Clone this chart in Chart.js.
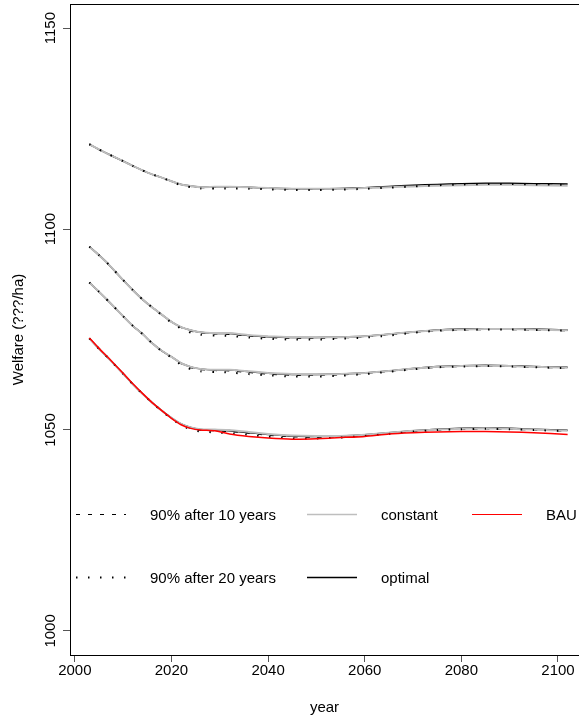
<!DOCTYPE html>
<html>
<head>
<meta charset="utf-8">
<script src="https://cdn.jsdelivr.net/npm/chart.js@4"></script>
<style>
  body { margin: 0; background: #fff; }
  canvas { display: block; }
</style>
</head>
<body>
<canvas id="chart" width="579" height="719"></canvas>
<script>
// -- DATA -- //
const years = [2003, 2005, 2007, 2010, 2012, 2014, 2016, 2018, 2020, 2022, 2024, 2026, 2029, 2032,
               2036, 2040, 2045, 2050, 2055, 2060, 2065, 2070, 2075, 2080, 2085, 2090, 2095, 2102];

const x_ticks = [2000, 2020, 2040, 2060, 2080, 2100];
const y_ticks = [1000, 1050, 1100, 1150];

// top group
const constant_a = [1121.1, 1119.8, 1118.6, 1116.9, 1115.7, 1114.6, 1113.6, 1112.8, 1111.9, 1111.1, 1110.7, 1110.4, 1110.5, 1110.5,
                    1110.4, 1110.2, 1110.0, 1110.0, 1110.0, 1110.2, 1110.4, 1110.6, 1110.8, 1110.9, 1111.0, 1111.0, 1110.9, 1110.8];
const optimal_a  = [1121.1, 1119.8, 1118.6, 1116.9, 1115.7, 1114.6, 1113.6, 1112.8, 1111.9, 1111.1, 1110.7, 1110.4, 1110.5, 1110.5,
                    1110.4, 1110.2, 1110.0, 1110.0, 1110.1, 1110.3, 1110.6, 1110.9, 1111.1, 1111.3, 1111.4, 1111.4, 1111.3, 1111.2];
const p10_a      = [1121.1, 1119.8, 1118.6, 1116.9, 1115.7, 1114.6, 1113.6, 1112.8, 1111.9, 1111.1, 1110.6, 1110.3, 1110.4, 1110.4,
                    1110.3, 1110.1, 1109.9, 1109.9, 1110.0, 1110.2, 1110.4, 1110.7, 1110.9, 1111.0, 1111.1, 1111.1, 1111.0, 1110.9];
const p20_a      = [1121.1, 1119.8, 1118.6, 1116.9, 1115.7, 1114.6, 1113.6, 1112.8, 1111.8, 1110.9, 1110.4, 1110.1, 1110.1, 1110.1,
                    1110.0, 1109.9, 1109.7, 1109.7, 1109.8, 1110.0, 1110.3, 1110.6, 1110.9, 1111.1, 1111.2, 1111.2, 1111.1, 1111.0];

// second group
const constant_b = [1095.6, 1093.5, 1091.2, 1087.3, 1084.8, 1082.5, 1080.5, 1078.7, 1076.9, 1075.6, 1074.8, 1074.3, 1074.1, 1074.1,
                    1073.6, 1073.3, 1073.1, 1073.0, 1073.1, 1073.3, 1073.8, 1074.4, 1074.8, 1075.0, 1075.1, 1075.1, 1075.0, 1074.8];
const optimal_b  = [1095.6, 1093.5, 1091.2, 1087.3, 1084.8, 1082.5, 1080.5, 1078.7, 1076.9, 1075.6, 1074.8, 1074.3, 1074.0, 1074.0,
                    1073.5, 1073.2, 1073.0, 1073.0, 1073.1, 1073.3, 1073.8, 1074.4, 1074.9, 1075.1, 1075.2, 1075.2, 1075.1, 1074.9];
const p10_b      = [1095.6, 1093.5, 1091.2, 1087.3, 1084.8, 1082.5, 1080.5, 1078.7, 1076.9, 1075.5, 1074.6, 1074.1, 1073.9, 1073.8,
                    1073.4, 1073.0, 1072.8, 1072.8, 1072.9, 1073.2, 1073.7, 1074.3, 1074.7, 1074.9, 1075.0, 1075.0, 1074.9, 1074.7];
const p20_b      = [1095.6, 1093.5, 1091.2, 1087.3, 1084.8, 1082.5, 1080.5, 1078.6, 1076.7, 1075.2, 1074.2, 1073.7, 1073.5, 1073.4,
                    1073.0, 1072.7, 1072.5, 1072.5, 1072.7, 1073.0, 1073.5, 1074.2, 1074.7, 1074.9, 1075.0, 1075.0, 1074.9, 1074.7];

// third group
const constant_c = [1086.7, 1084.4, 1082.0, 1078.3, 1075.9, 1073.9, 1071.6, 1069.7, 1068.2, 1066.6, 1065.7, 1065.2, 1065.0, 1065.0,
                    1064.6, 1064.2, 1063.9, 1063.8, 1063.9, 1064.2, 1064.7, 1065.3, 1065.7, 1065.9, 1066.0, 1065.9, 1065.7, 1065.5];
const optimal_c  = [1086.7, 1084.4, 1082.0, 1078.3, 1075.9, 1073.9, 1071.6, 1069.7, 1068.2, 1066.6, 1065.7, 1065.2, 1064.9, 1064.9,
                    1064.5, 1064.1, 1063.8, 1063.8, 1063.9, 1064.2, 1064.7, 1065.3, 1065.8, 1066.0, 1066.1, 1066.0, 1065.8, 1065.6];
const p10_c      = [1086.7, 1084.4, 1082.0, 1078.3, 1075.9, 1073.9, 1071.6, 1069.7, 1068.2, 1066.5, 1065.5, 1065.0, 1064.8, 1064.7,
                    1064.3, 1063.9, 1063.6, 1063.6, 1063.7, 1064.1, 1064.6, 1065.2, 1065.6, 1065.8, 1065.9, 1065.8, 1065.6, 1065.4];
const p20_c      = [1086.7, 1084.4, 1082.0, 1078.3, 1075.9, 1073.9, 1071.6, 1069.6, 1068.0, 1066.2, 1065.1, 1064.6, 1064.4, 1064.3,
                    1063.9, 1063.6, 1063.3, 1063.3, 1063.5, 1063.9, 1064.5, 1065.1, 1065.6, 1065.8, 1065.9, 1065.8, 1065.6, 1065.4];

// bottom group
const constant_d = [1072.8, 1070.2, 1067.8, 1064.0, 1061.4, 1059.0, 1056.8, 1054.8, 1053.0, 1051.5, 1050.6, 1050.2, 1050.1, 1050.0,
                    1049.5, 1049.0, 1048.6, 1048.5, 1048.5, 1048.8, 1049.3, 1049.8, 1050.1, 1050.3, 1050.4, 1050.3, 1050.1, 1049.8];
const optimal_d  = [1072.8, 1070.2, 1067.8, 1064.0, 1061.4, 1059.0, 1056.8, 1054.8, 1053.0, 1051.5, 1050.6, 1050.1, 1050.0, 1049.8,
                    1049.3, 1048.9, 1048.5, 1048.4, 1048.5, 1048.8, 1049.3, 1049.8, 1050.2, 1050.4, 1050.5, 1050.4, 1050.2, 1049.9];
const p10_d      = [1072.8, 1070.2, 1067.8, 1064.0, 1061.4, 1059.0, 1056.8, 1054.8, 1053.0, 1051.4, 1050.4, 1049.9, 1049.8, 1049.6,
                    1049.2, 1048.7, 1048.3, 1048.2, 1048.3, 1048.6, 1049.1, 1049.6, 1050.0, 1050.2, 1050.3, 1050.2, 1050.0, 1049.7];
const p20_d      = [1072.8, 1070.2, 1067.8, 1064.0, 1061.4, 1059.0, 1056.8, 1054.7, 1052.8, 1051.2, 1050.1, 1049.6, 1049.4, 1049.2,
                    1048.8, 1048.3, 1047.9, 1047.9, 1048.1, 1048.5, 1049.0, 1049.6, 1050.0, 1050.2, 1050.3, 1050.2, 1050.0, 1049.7];
const bau        = [1072.9, 1070.3, 1067.9, 1064.1, 1061.5, 1059.1, 1056.8, 1054.8, 1052.9, 1051.3, 1050.4, 1050.0, 1049.8, 1049.0,
                    1048.4, 1048.0, 1047.7, 1047.8, 1048.1, 1048.4, 1049.0, 1049.3, 1049.5, 1049.6, 1049.6, 1049.5, 1049.3, 1048.9];

const legend_labels = ["90% after 10 years", "constant", "BAU", "90% after 20 years", "optimal"];

// -- STYLES -- //
const FONT = "'Liberation Sans', Arial, Helvetica, sans-serif";
const FONT_SIZE = 15;
const GREY = "#bebebe";
const DASH = [4, 8];
const DOT = [1.5, 10.5];

function pts(vals) {
    return vals.map((v, i) => ({ x: years[i], y: v }));
}

function line(vals, color, width, dash, order) {
    return {
        data: pts(vals),
        borderColor: color,
        borderWidth: width,
        borderDash: dash,
        pointRadius: 0,
        tension: 0.15,
        fill: false,
        order: order
    };
}

let datasets = [];
[[constant_a, optimal_a, p10_a, p20_a],
 [constant_b, optimal_b, p10_b, p20_b],
 [constant_c, optimal_c, p10_c, p20_c],
 [constant_d, optimal_d, p10_d, p20_d]].forEach(function (g) {
    datasets.push(line(g[1], "#000", 1.5, [], 4));
    datasets.push(line(g[2], "#000", 1.2, DASH, 3));
    datasets.push(line(g[0], GREY, 2, [], 2));
    datasets.push(line(g[3], "#000", 2, DOT, 1));
});
datasets.push(line(bau, "#ff0000", 1.5, [], 0));

// -- EXTRA DRAWING (box top, y labels, legend) -- //
const extras = {
    id: "extras",
    afterDraw(chart) {
        const ctx = chart.ctx;
        const area = chart.chartArea;
        const ys = chart.scales.y;
        ctx.save();
        ctx.strokeStyle = "#000";
        ctx.lineWidth = 1;
        ctx.beginPath();
        ctx.moveTo(area.left, area.top + 0.5);
        ctx.lineTo(area.right, area.top + 0.5);
        ctx.stroke();

        // rotated y tick labels
        ctx.fillStyle = "#000";
        ctx.font = FONT_SIZE + "px " + FONT;
        ctx.textAlign = "center";
        ctx.textBaseline = "middle";
        y_ticks.forEach(function (v) {
            ctx.save();
            ctx.translate(51, ys.getPixelForValue(v));
            ctx.rotate(-Math.PI / 2);
            ctx.fillText(String(v), 0, 0);
            ctx.restore();
        });
        ctx.save();
        ctx.translate(19, (area.top + area.bottom) / 2);
        ctx.rotate(-Math.PI / 2);
        ctx.fillText("Welfare (???/ha)", 0, 0);
        ctx.restore();

        // legend
        const rows = [514.5, 577.5];
        const items = [
            { x: 76, row: 0, color: "#000", width: 1.2, dash: DASH, text: legend_labels[0] },
            { x: 307, row: 0, color: GREY, width: 1.5, dash: [], text: legend_labels[1] },
            { x: 472, row: 0, color: "#ff0000", width: 1.2, dash: [], text: legend_labels[2] },
            { x: 76, row: 1, color: "#000", width: 2, dash: DOT, text: legend_labels[3] },
            { x: 307, row: 1, color: "#000", width: 1.5, dash: [], text: legend_labels[4] }
        ];
        ctx.textAlign = "left";
        items.forEach(function (it) {
            const y = rows[it.row];
            ctx.strokeStyle = it.color;
            ctx.lineWidth = it.width;
            ctx.setLineDash(it.dash);
            ctx.beginPath();
            ctx.moveTo(it.x, y);
            ctx.lineTo(it.x + 50, y);
            ctx.stroke();
            ctx.setLineDash([]);
            ctx.fillText(it.text, it.x + 74, y + 1);
        });
        ctx.restore();
    }
};

// -- CHART -- //
const chart_ctx = document.getElementById("chart").getContext("2d");
let chart = new Chart(chart_ctx, {
    type: "line",
    data: { datasets: datasets },
    options: {
        responsive: false,
        animation: false,
        layout: { padding: { left: 0, top: 4, right: 0, bottom: 0 } },
        plugins: { legend: { display: false }, tooltip: { enabled: false } },
        scales: {
            x: {
                type: "linear",
                min: 1999,
                max: 2104.35,
                afterFit: function (s) { s.height = 64; },
                afterBuildTicks: function (s) { s.ticks = x_ticks.map(v => ({ value: v })); },
                grid: { drawOnChartArea: false, tickLength: 7, color: "#000", tickColor: "#555" },
                border: { display: true, color: "#000", width: 1 },
                ticks: {
                    color: "#000", font: { family: FONT, size: FONT_SIZE }, padding: 0,
                    maxRotation: 0, autoSkip: false,
                    callback: function (v) { return String(v); }
                },
                title: { display: true, text: "year", color: "#000", font: { family: FONT, size: FONT_SIZE }, padding: { top: 0, bottom: 2 } }
            },
            y: {
                type: "linear",
                min: 994,
                max: 1156,
                afterFit: function (s) { s.width = 70; },
                afterBuildTicks: function (s) { s.ticks = y_ticks.map(v => ({ value: v })); },
                grid: { drawOnChartArea: false, tickLength: 7, color: "#000", tickColor: "#555" },
                border: { display: true, color: "#000", width: 1 },
                ticks: { display: false }
            }
        }
    },
    plugins: [extras]
});
</script>
</body>
</html>
